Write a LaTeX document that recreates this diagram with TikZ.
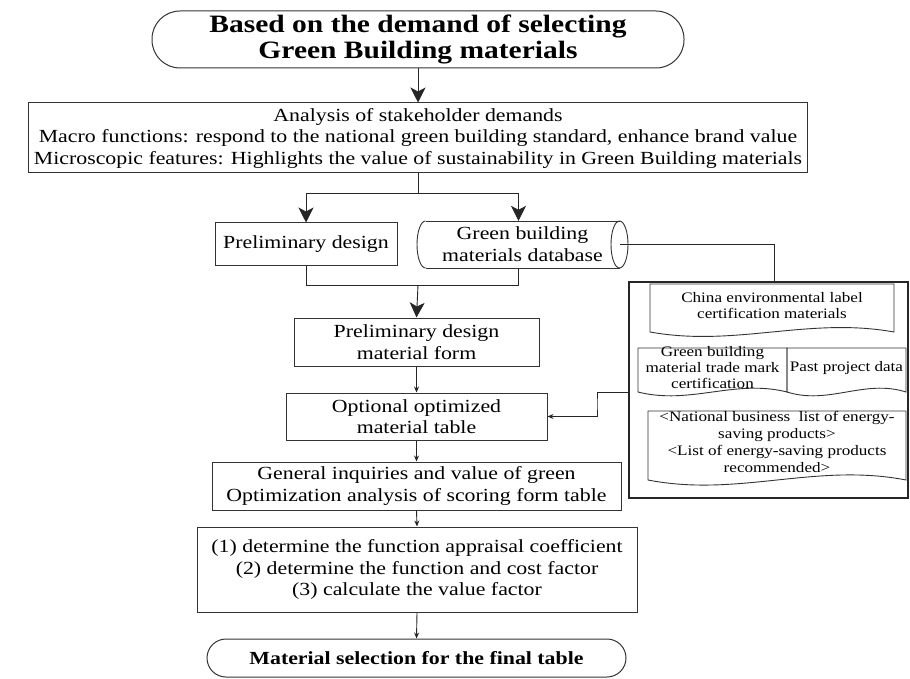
\documentclass[tikz,border=0pt]{standalone}
\usepackage{fontspec}
\setmainfont{Liberation Serif}[FakeStretch=1.18]
\usetikzlibrary{arrows.meta}
\newcommand\docpath[5]{%
  \draw[docline] (#1,#2) -- (#3,#2) -- (#3,#4)
    .. controls ({#3-0.35*(#3-#1)},{#4-2.2*#5}) and ({#1+0.35*(#3-#1)},{#4+2.2*#5}) .. (#1,#4) -- cycle;}
\begin{document}
\begin{tikzpicture}[x=1pt,y=-1pt,
  box/.style={draw=black!80, line width=1pt, align=center, inner sep=2pt,
    font=\fontsize{18.5}{21.5}\selectfont},
  termbox/.style={box, font=\bfseries\fontsize{18.5}{21.5}\selectfont},
  smalltxt/.style={align=center, inner sep=0pt, font=\fontsize{14.5}{16}\selectfont},
  docline/.style={draw=black!80, line width=0.9pt},
  conn/.style={draw=black!85, line width=0.9pt},
  bigarrow/.style={conn, -{Stealth[length=15pt,width=15pt,inset=4pt]}},
  smallarrow/.style={conn, -{Stealth[length=6pt,width=5pt]}}]
\useasboundingbox (0,0) rectangle (910,679);

% terminals and boxes
\node[termbox, rounded corners=28pt, minimum width=532pt, minimum height=57pt,
  font=\bfseries\fontsize{25}{26}\selectfont] (t1) at (418,39.5)
  {Based on the demand of selecting\\Green Building materials};
\node[box, minimum height=70pt, inner xsep=5pt] (ana) at (418,138)
  {Analysis of stakeholder demands\\
   Macro functions: respond to the national green building standard, enhance brand value\\
   Microscopic features: Highlights the value of sustainability in Green Building materials};
\node[box, minimum width=182pt, minimum height=42pt] (pd) at (306,244) {Preliminary design};
\node[align=center, inner sep=0pt, minimum width=211pt, minimum height=47pt,
  font=\fontsize{18.5}{22}\selectfont] (db) at (522.5,244.5)
  {Green building\\materials database};
\node[box, minimum width=245pt, minimum height=48pt] (pdm) at (416.5,342)
  {Preliminary design\\material form};
\node[box, minimum width=261pt, minimum height=47pt] (opt) at (416.5,416.5)
  {Optional optimized\\material table};
\node[box, minimum width=409pt, minimum height=48pt] (gen) at (416.5,486)
  {General inquiries and value of green\\Optimization analysis of scoring form table};
\node[box, minimum width=440pt, minimum height=85pt] (calc) at (417,569.5)
  {(1) determine the function appraisal coefficient\\
   (2) determine the function and cost factor\\
   (3) calculate the value factor};
\node[termbox, rounded corners=19pt, minimum width=419pt, minimum height=38pt] (fin) at (416.5,658)
  {Material selection for the final table};

% cylinder outline
\draw[docline] (425.5,221) -- (619.5,221);
\draw[docline] (425.5,268) -- (619.5,268);
\draw[docline] (425.5,221) arc[start angle=90, end angle=270, x radius=8.5pt, y radius=23.5pt];
\draw[docline] (619.5,244.5) ellipse[x radius=8.5pt, y radius=23.5pt];
\coordinate (dbe) at (619.5,244.5);

% big box with documents
\node[draw=black!85, line width=1.8pt, minimum width=279pt, minimum height=216pt, inner sep=0pt] (big) at (768.5,390) {};
\docpath{650}{284}{894}{332}{7}
\docpath{638}{348}{787}{392}{6}
\docpath{787}{348}{906}{392}{6}
\docpath{648}{411}{906}{480}{8}
\node[smalltxt] (china) at (772,306) {China environmental label\\certification materials};
\node[smalltxt] (gbm) at (712.5,368) {Green building\\material trade mark\\certification};
\node[smalltxt] (past) at (846.5,368) {Past project data};
\node[smalltxt, font=\fontsize{14.5}{17}\selectfont] (nat) at (777,442)
  {<National business\ \ list of energy-\\saving products>\\<List of energy-saving products\\recommended>};

% connectors
\coordinate (split) at (418,193);
\coordinate (join) at (418,285);
\coordinate (elbow) at (597,404);
\draw[bigarrow] (t1.south) -- (ana.north);
\draw[conn] (ana.south) -- (split);
\draw[bigarrow] (split) -| (pd.north);
\draw[bigarrow] (split) -| ([xshift=-4pt]db.north);
\draw[conn] (pd.south) |- (join);
\draw[conn] ([xshift=-4pt]db.south) |- (join);
\draw[bigarrow] (join) -- (pdm.north);
\draw[smallarrow] (pdm.south) -- (opt.north);
\draw[smallarrow] (opt.south) -- (gen.north);
\draw[smallarrow] (gen.south) -- (calc.north);
\draw[smallarrow] (calc.south) -- (fin.north);
\draw[conn] (dbe) -| ([xshift=5.5pt]big.north);
\draw[smallarrow] ([yshift=-2pt]big.west) -| (elbow) |- (opt.east);
\end{tikzpicture}
\end{document}
